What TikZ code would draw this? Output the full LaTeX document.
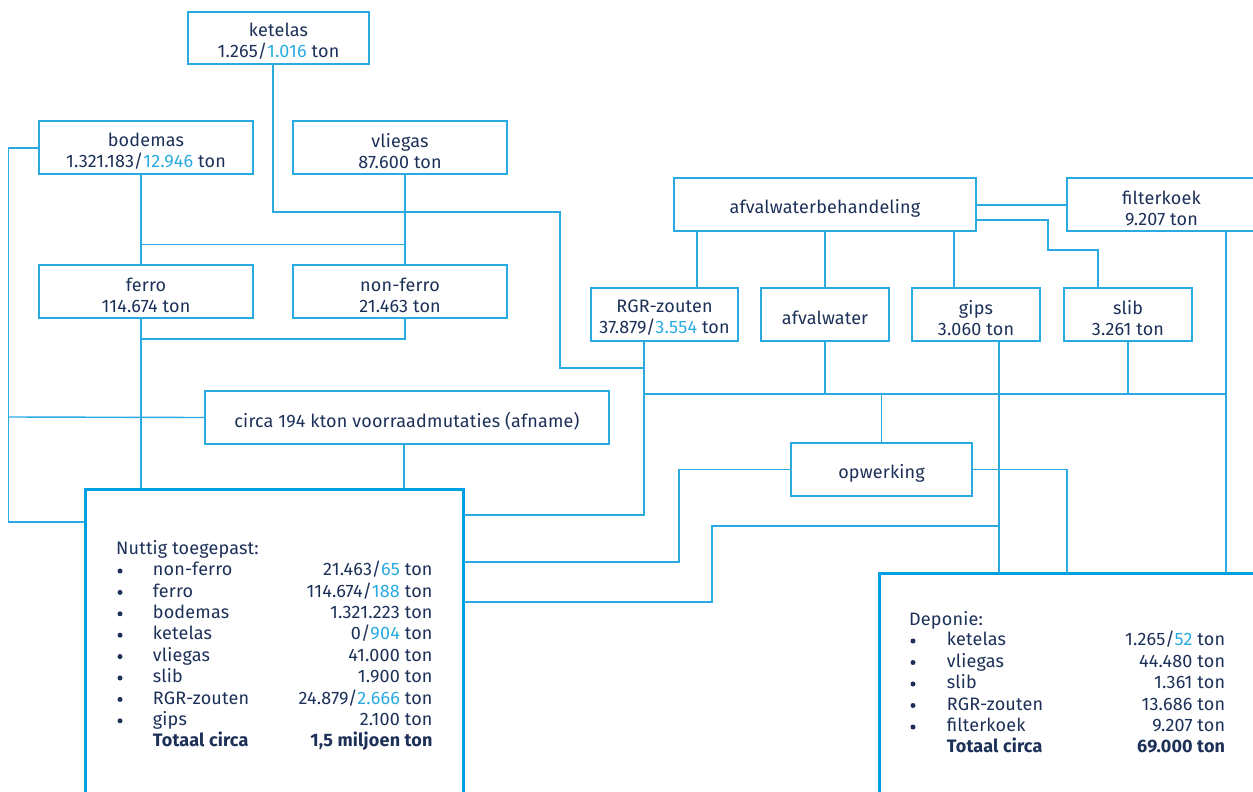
\documentclass[tikz,border=0pt]{standalone}
\usepackage{fontspec}
\setmainfont{Fira Sans}[LetterSpace=1]
\definecolor{ln}{RGB}{41,171,226}
\definecolor{bigln}{RGB}{0,160,227}
\definecolor{tx}{RGB}{28,48,88}
\definecolor{hl}{RGB}{41,171,226}
\newcommand\hlt[1]{\textcolor{hl}{#1}}
\newcommand\litem[7]{%
  \node[bul] (#7b) at (#1,#4+1) {};
  \node[lt, anchor=mid west] (#7n) at (#2,#4+3) {#5};
  \node[lt, anchor=mid east] (#7v) at (#3,#4+3) {#6};}
\begin{document}
\begin{tikzpicture}[x=1pt,y=-1pt,
  box/.style={draw=ln, line width=1.4pt, inner sep=0pt, minimum height=53pt},
  bt/.style={text=tx, align=center, inner sep=0pt, yshift=-3.5pt,
    font=\fontsize{18}{21}\selectfont},
  conn/.style={draw=ln, line width=1.4pt},
  big/.style={draw=bigln, line width=2.8pt, inner sep=0pt, fill=white},
  bul/.style={circle, fill=tx, inner sep=0pt, minimum size=5pt},
  lt/.style={text=tx, inner sep=0pt, font=\fontsize{18}{21}\selectfont}]
\useasboundingbox (0,0) rectangle (1253,792);

% boxes
\node[box, minimum width=181pt, minimum height=52pt, label={[bt]center:{ketelas\\1.265/\hlt{1.016} ton}}] (ketelas) at (278.5,38) {};
\node[box, minimum width=214pt, label={[bt]center:{bodemas\\1.321.183/\hlt{12.946} ton}}] (bodemas) at (146,147.5) {};
\node[box, minimum width=214pt, label={[bt]center:{vliegas\\87.600 ton}}] (vliegas) at (400,147.5) {};
\node[box, minimum width=214pt, label={[bt]center:{ferro\\114.674 ton}}] (ferro) at (146,291.5) {};
\node[box, minimum width=214pt, label={[bt]center:{non-ferro\\21.463 ton}}] (nonferro) at (400,291.5) {};
\node[box, minimum width=404pt, label={[bt]center:{circa 194 kton voorraadmutaties (afname)}}] (circa) at (407,417.5) {};
\node[box, minimum width=302pt, label={[bt]center:{afvalwaterbehandeling}}] (afb) at (825,204.5) {};
\node[box, minimum width=189pt, label={[bt]center:{filterkoek\\9.207 ton}}] (filterkoek) at (1161.5,204.5) {};
\node[box, minimum width=147pt, label={[bt]center:{RGR-zouten\\37.879/\hlt{3.554} ton}}] (RGR) at (664.5,314.5) {};
\node[box, minimum width=128pt, label={[bt]center:{afvalwater}}] (afvalwater) at (825,314.5) {};
\node[box, minimum width=128pt, label={[bt]center:{gips\\3.060 ton}}] (gips) at (976,314.5) {};
\node[box, minimum width=128pt, label={[bt]center:{slib\\3.261 ton}}] (slib) at (1128,314.5) {};
\node[box, minimum width=181pt, label={[bt]center:{opwerking}}] (opwerking) at (881.5,469.5) {};

% connectors
\draw[conn] ([xshift=-5.5pt]ketelas.south) -- (273,212) -- (560,212) |- (644,368);
\draw[conn] (RGR.south -| 644,0) -- (644,515) -- (462,515);
\draw[conn] (644,394) -- (1226,394);
\draw[conn] (afvalwater.south) -- (afvalwater.south |- 0,394);
\draw[conn] (gips.south -| 999,0) -- (999,572);
\draw[conn] (slib.south) -- (slib.south |- 0,394);
\draw[conn] (filterkoek.south -| 1226,0) -- (1226,572);
\draw[conn] (opwerking.north |- 0,394) -- (opwerking.north);
\draw[conn] (opwerking.west) -- (679,469.5) |- (462,562);
\draw[conn] (opwerking.east) -| (1067,572);
\draw[conn] (999,526) -- (712,526) |- (462,602);
\draw[conn] (afb.south -| 697,0) -- (RGR.north -| 697,0);
\draw[conn] (afb.south) -- (afvalwater.north);
\draw[conn] (afb.south -| 954,0) -- (gips.north -| 954,0);
\draw[conn] (afb.east |- 0,205) -- (filterkoek.west |- 0,205);
\draw[conn] (afb.east |- 0,220) -| (1048,250) -| (slib.north -| 1098,0);
\draw[conn] (bodemas.south -| 141,0) -- (ferro.north -| 141,0);
\draw[conn] (141,244.5) -- (405,244.5);
\draw[conn] (vliegas.south -| 405,0) -- (nonferro.north -| 405,0);
\draw[conn] (ferro.south -| 141,0) -- (141,488);
\draw[conn] (141,339) -| (nonferro.south -| 405,0);
\draw[conn] (bodemas.west |- 0,148) -| (8.5,522) -- (84,522);
\draw[conn] (8.5,417) -- (circa.west);
\draw[conn] (circa.south -| 404,0) -- (404,488);

% big boxes
\node[big, minimum width=378pt, minimum height=330pt, anchor=north west] (nut) at (84,488) {};
\node[big, minimum width=390pt, minimum height=250pt, anchor=north west] (dep) at (878,572) {};

% Nuttig list
\node[lt, anchor=mid west] (nuthead) at (116,552) {Nuttig toegepast:};
\litem{120}{152.7}{432.7}{570}{non-ferro}{21.463/\hlt{65} ton}{a1}
\litem{120}{152.7}{432.7}{591.4}{ferro}{114.674/\hlt{188} ton}{a2}
\litem{120}{152.7}{432.7}{612.8}{bodemas}{1.321.223 ton}{a3}
\litem{120}{152.7}{432.7}{634.2}{ketelas}{0/\hlt{904} ton}{a4}
\litem{120}{152.7}{432.7}{655.6}{vliegas}{41.000 ton}{a5}
\litem{120}{152.7}{432.7}{677}{slib}{1.900 ton}{a6}
\litem{120}{152.7}{432.7}{698.4}{RGR-zouten}{24.879/\hlt{2.666} ton}{a7}
\litem{120}{152.7}{432.7}{719.8}{gips}{2.100 ton}{a8}
\node[lt, anchor=mid west, font=\fontsize{18}{21}\selectfont\bfseries] (a9n) at (152.7,744) {Totaal circa};
\node[lt, anchor=mid east, font=\fontsize{18}{21}\selectfont\bfseries] (a9v) at (432.7,744) {1,5 miljoen ton};

% Deponie list
\node[lt, anchor=mid west] (dephead) at (909,623) {Deponie:};
\litem{913}{946.7}{1225.3}{640}{ketelas}{1.265/\hlt{52} ton}{b1}
\litem{913}{946.7}{1225.3}{661.5}{vliegas}{44.480 ton}{b2}
\litem{913}{946.7}{1225.3}{683}{slib}{1.361 ton}{b3}
\litem{913}{946.7}{1225.3}{704.5}{RGR-zouten}{13.686 ton}{b4}
\litem{913}{946.7}{1225.3}{726}{filterkoek}{9.207 ton}{b5}
\node[lt, anchor=mid west, font=\fontsize{18}{21}\selectfont\bfseries] (b6n) at (946.7,750) {Totaal circa};
\node[lt, anchor=mid east, font=\fontsize{18}{21}\selectfont\bfseries] (b6v) at (1225.3,750) {69.000 ton};
\end{tikzpicture}
\end{document}
